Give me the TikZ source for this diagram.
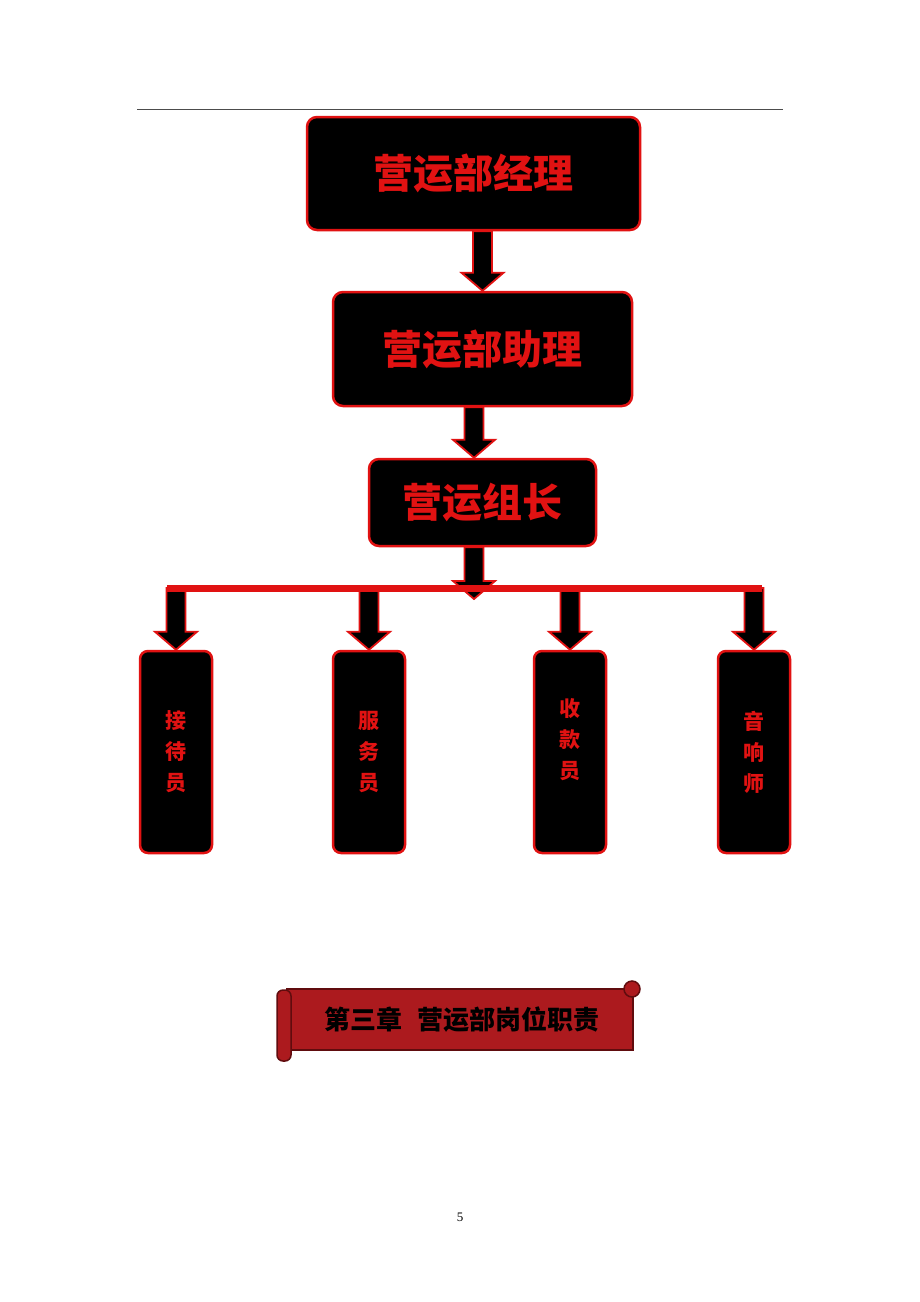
\documentclass[tikz,border=0pt]{standalone}
\usepackage{fontspec}
\setmainfont{Liberation Serif}
\newfontfamily\cjk{Noto Sans CJK SC}
\usetikzlibrary{calc}

\definecolor{postred}{RGB}{225,18,18}
\definecolor{scrollred}{RGB}{172,26,30}
\definecolor{scrolledge}{RGB}{96,12,14}

\tikzset{
  post/.style={draw=postred, line width=2.5pt, fill=black, rounded corners=10pt,
    text=postred, inner sep=0pt},
  head post/.style={post, font=\cjk\bfseries\fontsize{40}{40}\selectfont},
  staff post/.style={post, minimum width=72pt, minimum height=202pt, rounded corners=8pt},
  staff text/.style={text=postred, align=center, font=\cjk\bfseries\fontsize{21}{31}\selectfont},
  block arrow/.style={fill=black, draw=postred, line width=1.8pt, line join=miter},
  scroll part/.style={fill=scrollred, draw=scrolledge, line width=1.5pt},
}

% block arrow from the x of #1 down to the y of #2
\newcommand\blkarrow[2]{%
  \filldraw[block arrow] let \p1=(#1), \p2=(#2) in
    (\x1-9.5pt,\y1) -- (\x1-9.5pt,\y2+18pt) -- (\x1-21pt,\y2+18pt) -- (\x1,\y2)
    -- (\x1+21pt,\y2+18pt) -- (\x1+9.5pt,\y2+18pt) -- (\x1+9.5pt,\y1) -- cycle;}

\begin{document}
\begin{tikzpicture}[x=1pt, y=-1pt]

    \fill[white] (0,0) rectangle (920,1302);
    \useasboundingbox (0,0) rectangle (920,1302);

    \coordinate (rule left)  at (137,109);
    \coordinate (rule right) at (783,109);
    \coordinate (bar left)   at (167,588);
    \coordinate (bar right)  at (762,588);
    \coordinate (bar tip)    at (474,599);

    \draw[gray!60!black, line width=0.8pt] (rule left) -- (rule right);

    \node[head post, minimum width=333pt, minimum height=113pt] (manager)   at (473.5,173.5) {营运部经理};
    \node[head post, minimum width=299pt, minimum height=114pt] (assistant) at (482.5,349)   {营运部助理};
    \node[head post, minimum width=227pt, minimum height=87pt]  (leader)    at (482.5,502.5) {营运组长};

    \blkarrow{$(manager.south)+(9,0)$}{assistant.north}
    \blkarrow{$(assistant.south)+(-8.5,0)$}{leader.north}
    \blkarrow{$(leader.south)+(-8.5,0)$}{bar tip}

    \foreach \i/\x/\dy/\txt in {1/176/0/{接\\待\\员}, 2/369/0/{服\\务\\员},
                                3/570/-12/{收\\款\\员}, 4/754/0/{音\\响\\师}}
    {
      \node[staff post] (staff \i) at (\x,752) {};
      \node[staff text] (staff \i text) at ($(staff \i)+(0,\dy)$) {\txt};
      \blkarrow{staff \i.north |- bar left}{staff \i.north}
    }

    \draw[postred, line width=7pt] (bar left) -- (bar right);

    % chapter scroll
    \draw[scroll part] (287,989) rectangle (633,1050);
    \draw[scroll part, rounded corners=6pt] (277,990) rectangle (291,1061);
    \draw[scroll part] (632,989) circle (8pt);
    \node[font=\cjk\bfseries\fontsize{26}{26}\selectfont, text=black] (chapter) at (462,1020)
      {第三章\hspace{0.6em}营运部岗位职责};

    \node[font=\fontsize{13}{13}\selectfont] (page) at (460,1217) {5};
  \end{tikzpicture}
\end{document}
